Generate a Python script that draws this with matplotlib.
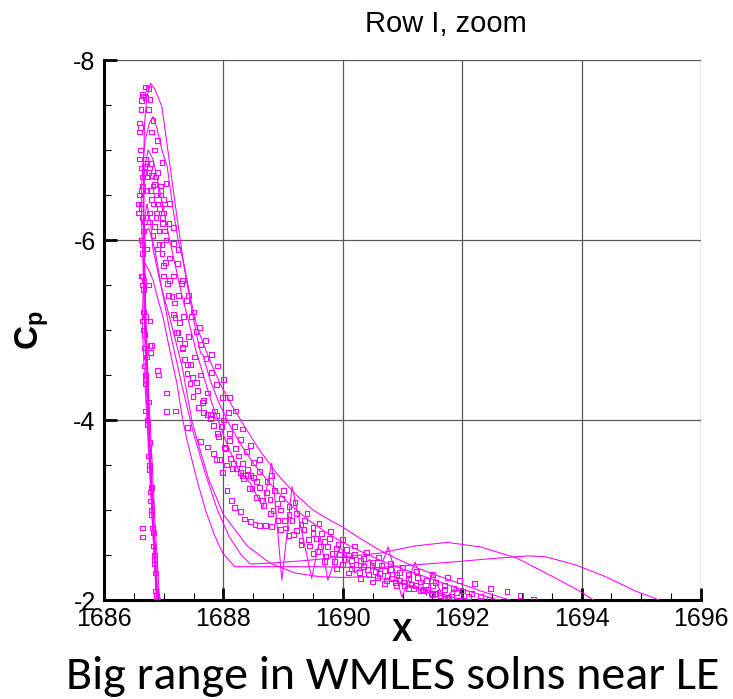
import matplotlib
matplotlib.use("Agg")
import matplotlib.pyplot as plt
from matplotlib.ticker import MultipleLocator
from matplotlib import font_manager as fm

plt.rcParams['font.family'] = ['Liberation Sans', 'DejaVu Sans']
plt.rcParams['axes.unicode_minus'] = False
plt.rcParams['mathtext.fontset'] = 'custom'
plt.rcParams['mathtext.bf'] = 'Liberation Sans:bold'
plt.rcParams['mathtext.rm'] = 'Liberation Sans'

# ---------------- data ----------------
# solid-line solutions
L1_x = [1686.93, 1686.86, 1686.80, 1686.74, 1686.70, 1686.67, 1686.66, 1686.68, 1686.72, 1686.78, 1686.85, 1686.97,
        1687.10, 1687.20, 1687.32, 1687.45, 1687.56, 1687.75, 1687.94, 1688.16, 1688.40, 1688.60, 1688.90, 1689.20,
        1689.50, 1689.75, 1690.00, 1690.30, 1690.60, 1690.90, 1691.20, 1691.50, 1691.80, 1692.10, 1692.40, 1692.70, 1693.00]
L1_y = [-2.0, -2.8, -3.6, -4.4, -5.2, -6.0, -6.8, -7.3, -7.6, -7.74, -7.68, -7.48,
        -6.85, -6.36, -5.8, -5.35, -5.03, -4.7, -4.41, -4.14, -3.88, -3.67, -3.4, -3.18,
        -3.0, -2.9, -2.81, -2.68, -2.56, -2.46, -2.37, -2.29, -2.22, -2.15, -2.08, -2.02, -1.96]

L2_x = [1686.90, 1686.83, 1686.76, 1686.70, 1686.66, 1686.63, 1686.63, 1686.66, 1686.69, 1686.76, 1686.82, 1686.88,
        1686.97, 1687.06, 1687.16, 1687.24, 1687.32, 1687.45, 1687.55, 1687.62, 1687.66, 1687.70, 1687.78, 1687.92,
        1688.10, 1688.30, 1688.50, 1688.80, 1689.10, 1689.40, 1689.70, 1690.00, 1690.30, 1690.60, 1690.90, 1691.20,
        1691.50, 1691.80, 1692.10, 1692.40, 1692.70]
L2_y = [-2.0, -2.9, -3.8, -4.7, -5.6, -6.2, -6.6, -6.92, -7.11, -7.3, -7.37, -7.26,
        -7.0, -6.81, -6.33, -6.0, -5.78, -5.3, -4.95, -4.74, -4.72, -4.62, -4.44, -4.2,
        -3.95, -3.72, -3.52, -3.28, -3.07, -2.9, -2.76, -2.64, -2.54, -2.45, -2.37, -2.3,
        -2.23, -2.16, -2.1, -2.04, -1.98]

L3_x = [1686.88, 1686.80, 1686.72, 1686.67, 1686.64, 1686.66, 1686.69, 1686.76, 1686.82, 1686.90, 1686.99, 1687.10,
        1687.22, 1687.32, 1687.39, 1687.55, 1687.70, 1687.85, 1687.99, 1688.19, 1688.60, 1689.00, 1689.60, 1690.20,
        1690.62, 1691.20, 1691.80, 1692.50, 1693.10, 1693.40, 1693.90, 1694.40, 1694.90, 1695.30]
L3_y = [-2.0, -3.0, -4.0, -4.6, -5.1, -5.5, -5.74, -5.65, -5.56, -5.35, -5.14, -4.78,
        -4.41, -4.0, -3.78, -3.35, -3.0, -2.72, -2.52, -2.37, -2.37, -2.37, -2.37, -2.36,
        -2.36, -2.39, -2.42, -2.46, -2.49, -2.48, -2.39, -2.26, -2.1, -2.0]

L4_x = [1686.89, 1686.82, 1686.75, 1686.70, 1686.67, 1686.68, 1686.72, 1686.78, 1686.82, 1686.95, 1687.10, 1687.31,
        1687.47, 1687.56, 1687.75, 1688.00, 1688.40, 1688.78, 1689.20, 1689.60, 1690.00, 1690.40, 1690.80, 1691.20,
        1691.60, 1692.00]
L4_y = [-2.0, -3.0, -4.0, -5.0, -5.8, -6.25, -6.4, -6.2, -5.9, -5.5, -5.14, -4.59,
        -4.0, -3.78, -3.35, -2.95, -2.6, -2.41, -2.3, -2.26, -2.25, -2.26, -2.22, -2.15,
        -2.08, -2.0]

L5_x = [1686.90, 1686.78, 1686.70, 1686.66, 1686.68, 1686.74, 1686.82, 1686.95, 1687.10, 1687.30, 1687.55, 1687.80,
        1688.05, 1688.25, 1688.45, 1688.66, 1688.81, 1688.98, 1689.15, 1689.48, 1689.62, 1689.75, 1689.95, 1690.20,
        1690.45, 1690.60, 1690.76, 1690.99, 1691.21, 1691.40, 1691.50, 1691.70, 1691.90, 1692.10]
L5_y = [-2.0, -3.5, -5.0, -6.2, -6.8, -7.0, -6.9, -6.5, -6.0, -5.4, -4.75, -4.2,
        -3.75, -3.45, -3.3, -3.03, -3.52, -2.22, -3.26, -2.24, -2.7, -2.22, -2.6, -2.3,
        -2.45, -2.3, -2.59, -2.03, -2.42, -2.05, -2.3, -2.0, -2.15, -1.95]

L6_x = [1686.88, 1686.80, 1686.73, 1686.68, 1686.66, 1686.69, 1686.75, 1686.85, 1686.97, 1687.10, 1687.30, 1687.50,
        1687.70, 1687.90, 1688.10, 1688.30, 1688.45, 1688.80, 1689.40, 1690.00, 1690.62, 1691.20, 1691.75, 1692.30,
        1692.90, 1693.40, 1693.94, 1694.20]
L6_y = [-2.0, -3.0, -4.0, -5.0, -5.7, -6.1, -6.13, -5.9, -5.45, -5.0, -4.4, -3.85,
        -3.4, -3.0, -2.7, -2.5, -2.4, -2.41, -2.44, -2.48, -2.52, -2.6, -2.64, -2.59,
        -2.47, -2.3, -2.11, -2.0]

# square-symbol solutions
S1_x = [1686.88, 1686.84, 1686.80, 1686.76, 1686.72, 1686.69, 1686.66, 1686.64, 1686.62, 1686.60, 1686.60, 1686.60,
        1686.62, 1686.65, 1686.70, 1686.74, 1686.77, 1686.82, 1686.90, 1686.97, 1687.04, 1687.10, 1687.16, 1687.24,
        1687.32, 1687.41, 1687.50, 1687.60, 1687.70, 1687.80, 1687.90, 1688.00, 1688.10, 1688.20, 1688.32, 1688.45,
        1688.60, 1688.80, 1689.00, 1689.20, 1689.40, 1689.60, 1689.80, 1690.00, 1690.20, 1690.40, 1690.60, 1690.80,
        1691.00, 1691.24, 1691.50, 1691.75, 1691.96, 1692.20, 1692.47, 1692.75, 1692.97, 1693.20]
S1_y = [-2.05, -2.5, -3.0, -3.5, -4.0, -4.5, -5.0, -5.5, -6.0, -6.5, -6.9, -7.2,
        -7.45, -7.62, -7.7, -7.68, -7.56, -7.33, -7.11, -6.86, -6.63, -6.41, -6.14, -5.89,
        -5.55, -5.38, -5.2, -5.03, -4.88, -4.73, -4.6, -4.45, -4.25, -4.1, -3.9, -3.72,
        -3.56, -3.38, -3.22, -3.08, -2.96, -2.85, -2.76, -2.67, -2.6, -2.53, -2.47, -2.41,
        -2.36, -2.32, -2.28, -2.25, -2.22, -2.18, -2.13, -2.09, -2.05, -2.01]

S2_x = [1686.86, 1686.82, 1686.78, 1686.74, 1686.70, 1686.67, 1686.65, 1686.63, 1686.62, 1686.62, 1686.64, 1686.68,
        1686.72, 1686.76, 1686.80, 1686.84, 1686.88, 1686.93, 1686.98, 1687.04, 1687.10, 1687.17, 1687.25, 1687.33,
        1687.42, 1687.52, 1687.62, 1687.73, 1687.85, 1687.97, 1688.10, 1688.25, 1688.40, 1688.55, 1688.72, 1688.90,
        1689.10, 1689.30, 1689.50, 1689.70, 1689.90, 1690.10, 1690.30, 1690.50, 1690.70, 1690.90, 1691.10, 1691.30,
        1691.50, 1691.70, 1691.90, 1692.10, 1692.30]
S2_y = [-2.1, -2.6, -3.1, -3.6, -4.1, -4.6, -5.1, -5.6, -6.0, -6.4, -6.7, -6.82,
        -6.85, -6.8, -6.72, -6.62, -6.5, -6.35, -6.18, -6.0, -5.8, -5.6, -5.38, -5.15,
        -4.93, -4.7, -4.5, -4.3, -4.1, -3.93, -3.77, -3.6, -3.45, -3.32, -3.19, -3.07,
        -2.95, -2.84, -2.74, -2.65, -2.57, -2.5, -2.44, -2.38, -2.33, -2.28, -2.24, -2.2,
        -2.16, -2.12, -2.08, -2.04, -2.0]

S3_x = [1686.90, 1686.85, 1686.80, 1686.76, 1686.73, 1686.70, 1686.68, 1686.66, 1686.65, 1686.66, 1686.70, 1686.76,
        1686.82, 1686.90, 1686.99, 1687.07, 1687.14, 1687.19, 1687.22, 1687.27, 1687.31, 1687.35, 1687.39, 1687.44,
        1687.49, 1687.58, 1687.66, 1687.78, 1687.89, 1688.00, 1688.10, 1688.20, 1688.32, 1688.45, 1688.60, 1688.78,
        1688.95, 1689.15, 1689.35, 1689.55, 1689.75, 1689.95, 1690.15, 1690.35, 1690.55, 1690.75, 1690.95, 1691.15,
        1691.35, 1691.55, 1691.75]
S3_y = [-2.0, -2.45, -2.95, -3.45, -3.95, -4.45, -4.95, -5.45, -5.85, -6.1, -6.25, -6.2,
        -6.05, -5.9, -5.72, -5.52, -5.37, -5.14, -4.97, -4.9, -4.81, -4.67, -4.52, -4.41,
        -4.26, -4.14, -4.08, -4.06, -4.05, -4.0, -3.85, -3.68, -3.52, -3.38, -3.25, -3.12,
        -3.0, -2.88, -2.78, -2.68, -2.59, -2.51, -2.44, -2.37, -2.32, -2.27, -2.22, -2.17,
        -2.12, -2.07, -2.03]

S4_x = [1686.88, 1686.84, 1686.80, 1686.76, 1686.72, 1686.69, 1686.66, 1686.64, 1686.62, 1686.62, 1686.68, 1686.72,
        1686.75, 1686.77, 1686.80, 1686.90, 1687.05, 1687.20, 1687.40, 1687.61, 1687.74, 1687.83, 1687.89, 1687.99,
        1688.06, 1688.14, 1688.19, 1688.28, 1688.36, 1688.45, 1688.53, 1688.61, 1688.70, 1688.80, 1688.95, 1689.10,
        1689.30, 1689.50, 1689.70, 1689.90, 1690.10, 1690.30, 1690.50, 1690.70, 1690.90, 1691.10, 1691.30, 1691.50,
        1691.70]
S4_y = [-2.0, -2.5, -3.0, -3.5, -4.0, -4.5, -5.0, -5.5, -6.0, -6.35, -6.2, -5.9,
        -5.5, -5.1, -4.83, -4.55, -4.3, -4.1, -3.92, -3.76, -3.7, -3.63, -3.56, -3.42,
        -3.22, -3.11, -3.03, -2.98, -2.9, -2.87, -2.84, -2.83, -2.83, -2.82, -2.78, -2.72,
        -2.62, -2.52, -2.43, -2.35, -2.3, -2.24, -2.2, -2.18, -2.16, -2.13, -2.1, -2.06,
        -2.02]

S5_x = [1686.87, 1686.84, 1686.81, 1686.78, 1686.75, 1686.72, 1686.70, 1686.68, 1686.66, 1686.64, 1686.63, 1686.62,
        1686.64, 1686.68, 1686.73, 1686.78, 1686.83, 1686.87, 1686.92, 1686.97, 1687.03, 1687.10, 1687.18, 1687.26,
        1687.35, 1687.45, 1687.55, 1687.66, 1687.78, 1687.90, 1688.03, 1688.17, 1688.32, 1688.48, 1688.65, 1688.83,
        1689.02, 1689.22, 1689.42, 1689.62, 1689.82, 1690.02, 1690.22, 1690.42, 1690.62, 1690.82, 1691.02, 1691.22,
        1691.42, 1691.62, 1691.82, 1692.02]
S5_y = [-2.05, -2.4, -2.8, -3.2, -3.6, -4.0, -4.4, -4.8, -5.2, -5.6, -6.0, -6.35,
        -6.6, -6.75, -6.7, -6.55, -6.4, -6.25, -6.1, -5.95, -5.75, -5.55, -5.3, -5.08,
        -4.85, -4.62, -4.42, -4.22, -4.02, -3.85, -3.68, -3.52, -3.38, -3.24, -3.11, -2.99,
        -2.88, -2.77, -2.67, -2.59, -2.52, -2.45, -2.39, -2.34, -2.29, -2.24, -2.2, -2.16,
        -2.12, -2.08, -2.04, -2.0]

S6_x = [1686.64, 1686.65, 1686.77, 1686.78, 1686.90, 1686.91, 1687.05, 1686.58, 1686.57, 1686.59,
        1687.94, 1688.05, 1688.15, 1688.28, 1688.40, 1688.50, 1686.95, 1687.00]
S6_y = [-2.8, -2.7, -4.83, -4.75, -4.55, -4.5, -4.09, -6.3, -6.4, -7.3,
        -3.56, -3.5, -3.46, -3.42, -3.38, -3.36, -6.6, -6.45]

S7_x = [1686.95, 1687.02, 1687.09, 1687.16, 1687.23, 1687.30, 1687.38, 1687.46, 1687.54, 1687.62, 1687.71, 1687.80,
        1687.89, 1687.98, 1688.08, 1688.18, 1688.28, 1688.39, 1688.50, 1688.61, 1688.73, 1688.85, 1688.97, 1689.10,
        1689.23, 1689.36, 1689.50, 1689.64, 1689.78, 1689.92, 1690.06, 1690.20, 1690.35, 1690.50, 1690.65, 1690.80,
        1690.95, 1691.10, 1691.25, 1691.40, 1691.55, 1691.70, 1691.85, 1692.00, 1692.15, 1692.30, 1692.45, 1692.60]
S7_y = [-6.6, -6.4, -6.18, -5.96, -5.74, -5.52, -5.33, -5.15, -4.98, -4.84, -4.68, -4.53,
        -4.39, -4.25, -4.08, -3.93, -3.78, -3.65, -3.53, -3.43, -3.32, -3.22, -3.13, -3.04,
        -2.96, -2.88, -2.81, -2.74, -2.68, -2.62, -2.56, -2.51, -2.46, -2.42, -2.38, -2.34,
        -2.31, -2.28, -2.25, -2.22, -2.19, -2.16, -2.13, -2.1, -2.07, -2.04, -2.01, -1.98]

S8_x = [1687.00, 1687.08, 1687.16, 1687.24, 1687.32, 1687.40, 1687.48, 1687.56, 1687.65, 1687.74, 1687.83, 1687.92,
        1688.02, 1688.12, 1688.22, 1688.33, 1688.44, 1688.55, 1688.67, 1688.79, 1688.91, 1689.04, 1689.17, 1689.30,
        1689.44, 1689.58, 1689.72, 1689.86, 1690.00, 1690.14, 1690.28, 1690.43, 1690.58, 1690.73, 1690.88, 1691.03,
        1691.18, 1691.33, 1691.48, 1691.63, 1691.78, 1691.93, 1692.08]
S8_y = [-5.6, -5.38, -5.17, -4.97, -4.79, -4.62, -4.47, -4.33, -4.19, -4.06, -3.94, -3.82,
        -3.69, -3.57, -3.46, -3.35, -3.24, -3.14, -3.05, -2.96, -2.88, -2.8, -2.73, -2.66,
        -2.6, -2.54, -2.48, -2.43, -2.39, -2.35, -2.31, -2.28, -2.25, -2.22, -2.19, -2.16,
        -2.13, -2.1, -2.07, -2.05, -2.02, -2.0, -1.98]

S9_x = [1686.86, 1686.83, 1686.80, 1686.77, 1686.74, 1686.71, 1686.69, 1686.67, 1686.65, 1686.64, 1686.63, 1686.62,
        1686.61, 1686.61, 1686.62, 1686.63, 1686.66, 1686.70, 1686.75, 1686.80, 1686.85, 1686.90, 1686.95, 1687.00]
S9_y = [-2.3, -2.75, -3.25, -3.75, -4.2, -4.7, -5.15, -5.55, -5.95, -6.25, -6.55, -6.8,
        -7.0, -7.25, -7.45, -7.55, -7.6, -7.58, -7.45, -7.2, -7.0, -6.75, -6.55, -6.3]

S10_x = [1686.70, 1686.74, 1686.78, 1686.82, 1686.86, 1686.90, 1686.94, 1686.98, 1687.02,
         1686.72, 1686.76, 1686.80, 1686.84, 1686.88, 1686.92, 1686.97]
S10_y = [-6.9, -6.75, -6.85, -6.6, -6.7, -6.4, -6.5, -6.25, -6.1,
         -6.55, -6.3, -6.45, -6.15, -6.3, -5.95, -5.85]

line_series = [(L1_x, L1_y), (L2_x, L2_y), (L3_x, L3_y), (L4_x, L4_y), (L5_x, L5_y), (L6_x, L6_y)]
square_series = [(S1_x, S1_y), (S2_x, S2_y), (S3_x, S3_y), (S4_x, S4_y), (S5_x, S5_y),
                 (S6_x, S6_y), (S7_x, S7_y), (S8_x, S8_y), (S9_x, S9_y), (S10_x, S10_y)]

x_ticks = [1686, 1688, 1690, 1692, 1694, 1696]
y_ticks = [-8, -6, -4, -2]
title_text = "Row I, zoom"
x_label = "X"
y_label = r"$\mathbf{C_p}$"
caption = "Big range in WMLES solns near LE"

# ---------------- figure ----------------
W, H = 733, 699
fig = plt.figure(figsize=(W / 100, H / 100), dpi=100)
ax = fig.add_axes([104 / W, 1 - 600 / H, (701 - 104) / W, (600 - 60) / H])

mag = '#FF00FF'
for xs, ys in line_series:
    ax.plot(xs, ys, color=mag, lw=0.75, zorder=3)
for xs, ys in square_series:
    ax.scatter(xs, ys, s=12, marker='s', facecolors='none', edgecolors=mag,
               linewidths=0.8, zorder=4)

ax.set_xlim(1686, 1696)
ax.set_ylim(-2, -8)
ax.set_xticks(x_ticks)
ax.set_yticks(y_ticks)
ax.xaxis.set_minor_locator(MultipleLocator(0.5))
ax.yaxis.set_minor_locator(MultipleLocator(0.5))
ax.grid(True, which='major', color='#5a5a5a', lw=0.9)
ax.set_axisbelow(True)

for s in ['top', 'right']:
    ax.spines[s].set_visible(False)
for s in ['left', 'bottom']:
    ax.spines[s].set_linewidth(2.2)
    ax.spines[s].set_color('black')

ax.tick_params(which='major', direction='in', length=9, width=2.0, labelsize=18)
ax.tick_params(which='minor', direction='in', length=5, width=0.8)
ax.tick_params(axis='x', which='major', pad=5)
ax.tick_params(axis='y', which='major', pad=6)

fig.text(446 / W, 1 - 32 / H, title_text, ha='center', va='baseline', fontsize=21)
fig.text(402 / W, 1 - 633 / H, x_label, ha='center', va='center', fontsize=22, fontweight='bold')
fig.text(32 / W, 1 - 330 / H, y_label, ha='center', va='center', fontsize=24, rotation=90)

cap_font = 'Lato'
for cand in ['Carlito', 'Lato', 'Open Sans']:
    try:
        fm.findfont(cand, fallback_to_default=False)
        cap_font = cand
        break
    except Exception:
        pass
cap = fig.text(393 / W, 1 - 689 / H, caption, ha='center', va='baseline', fontsize=30,
               family=[cap_font, 'DejaVu Sans'])
fig.canvas.draw()
bb = cap.get_window_extent()
cap.set_fontsize(30 * 652 / bb.width)

fig.savefig('out.png', dpi=100)
